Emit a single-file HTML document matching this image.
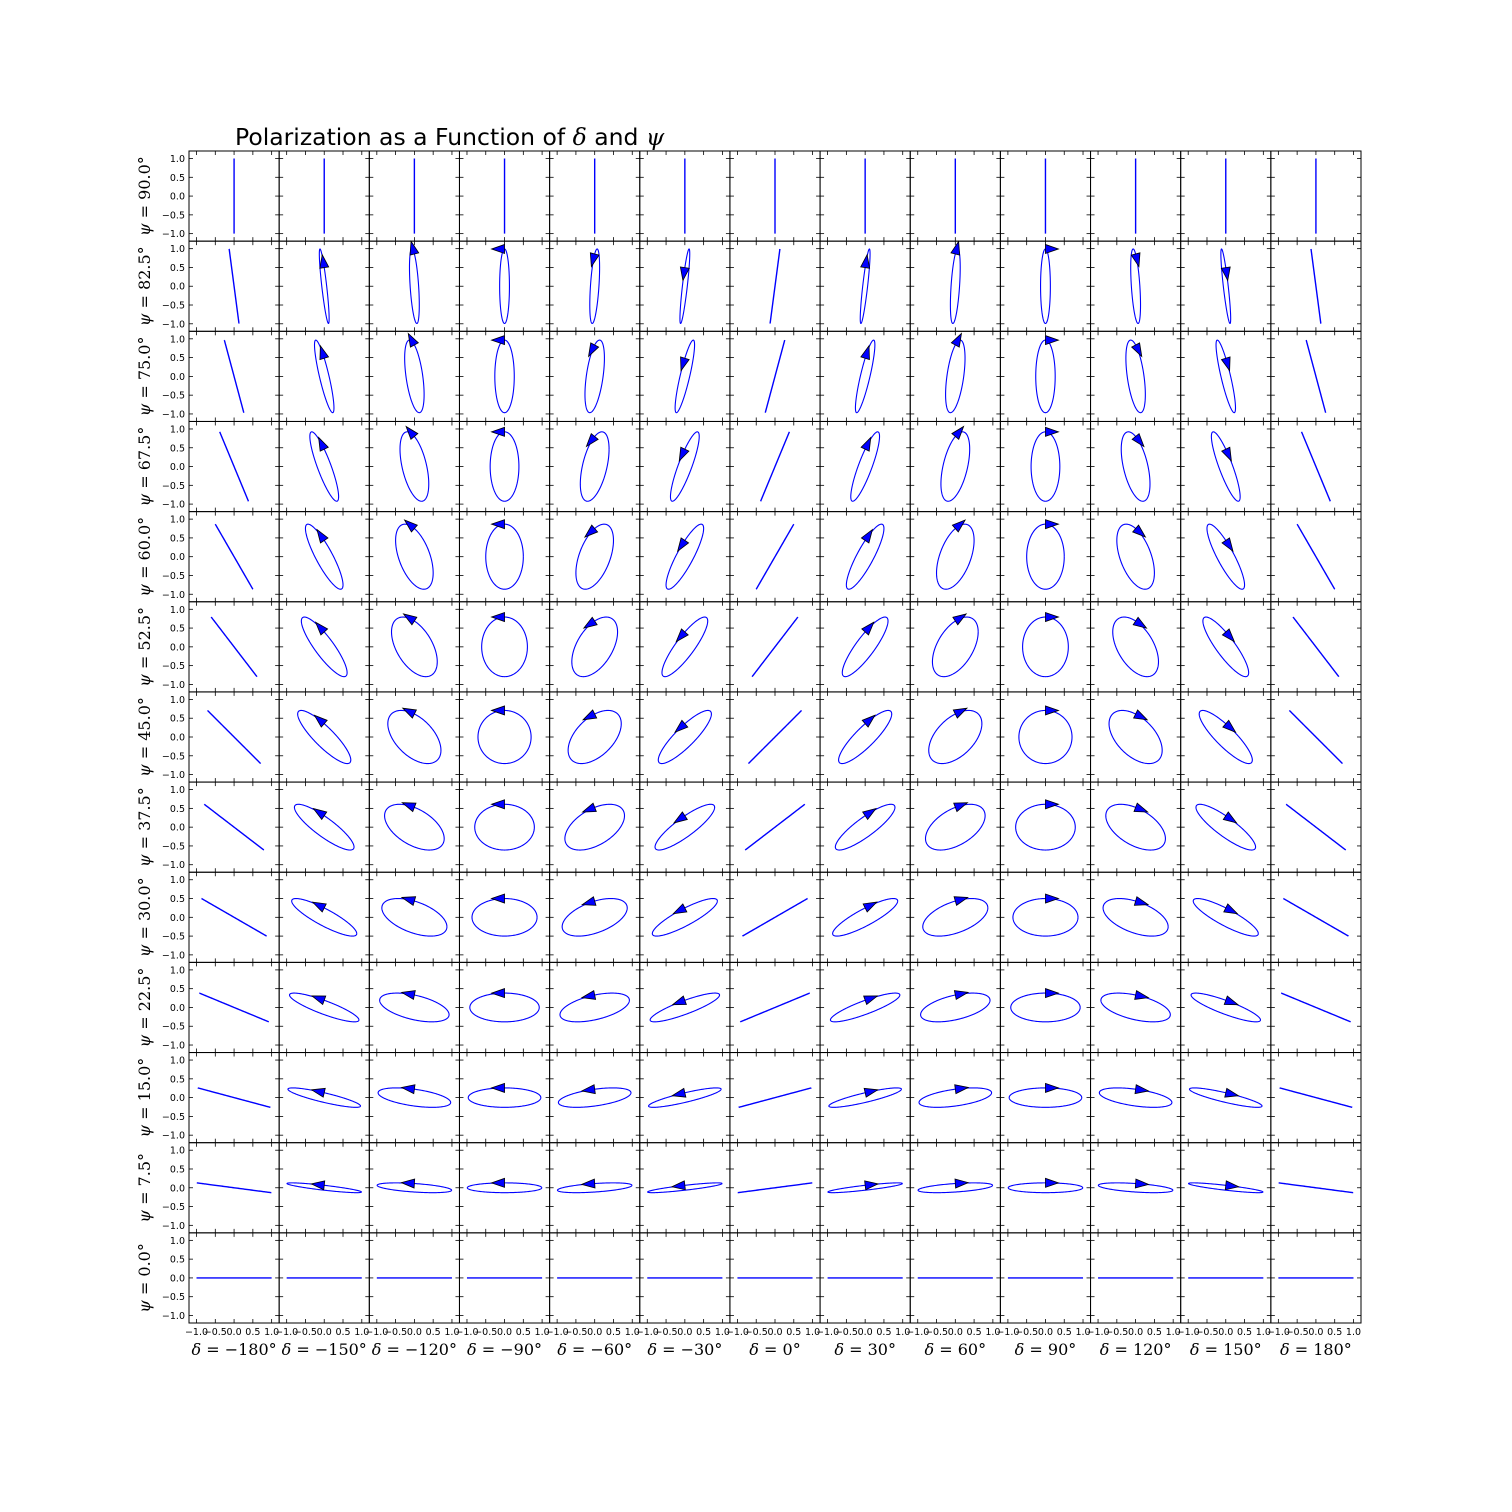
<!DOCTYPE html>
<html><head><meta charset="utf-8">
<style>
html,body{margin:0;padding:0;background:#fff;}
svg{display:block;}
</style></head>
<body>
<svg id="fig" width="1512" height="1512" xmlns="http://www.w3.org/2000/svg">
<rect x="0" y="0" width="1512" height="1512" fill="#fff"/>
<text x="235" y="145" font-family="DejaVu Sans, Liberation Sans, sans-serif" font-size="23.5" fill="#000">Polarization as a Function of <tspan font-family="DejaVu Serif, Liberation Serif, serif" font-style="italic">δ</tspan> and <tspan font-family="DejaVu Serif, Liberation Serif, serif" font-style="italic">ψ</tspan></text>
<g id="cells"></g>
</svg>
<script>
const psis = [90, 82.5, 75, 67.5, 60, 52.5, 45, 37.5, 30, 22.5, 15, 7.5, 0];
const deltas = [-180, -150, -120, -90, -60, -30, 0, 30, 60, 90, 120, 150, 180];
const tickVals = [-1.0, -0.5, 0.0, 0.5, 1.0];
const tickLabels = ["\u22121.0", "\u22120.5", "0.0", "0.5", "1.0"];

const NS = "http://www.w3.org/2000/svg";
const L = 189, T = 151, R = 1361, B = 1323;
const cw = (R - L) / deltas.length, ch = (B - T) / psis.length;
const lim = 1.2;
const g = document.getElementById('cells');
function mk(tag, attrs, parent) {
  const e = document.createElementNS(NS, tag);
  for (const k in attrs) e.setAttribute(k, attrs[k]);
  (parent || g).appendChild(e);
  return e;
}
function labelText(parent, sym, rest) {
  const a = document.createElementNS(NS, 'tspan');
  a.setAttribute('font-style', 'italic');
  a.textContent = sym;
  parent.appendChild(a);
  const b = document.createElementNS(NS, 'tspan');
  b.textContent = rest;
  parent.appendChild(b);
}
for (let r = 0; r < psis.length; r++) {
  for (let c = 0; c < deltas.length; c++) {
    const x0 = L + c * cw, y0 = T + r * ch;
    const sx = v => x0 + (v + lim) / (2 * lim) * cw;
    const sy = v => y0 + (lim - v) / (2 * lim) * ch;
    const cell = mk('g', {});
    
    
    const ps = psis[r] * Math.PI / 180, d = deltas[c] * Math.PI / 180;
    const cp = Math.cos(ps), sp = Math.sin(ps);
    let pts = [];
    for (let i = 0; i <= 200; i++) {
      const t = i / 200 * 2 * Math.PI;
      pts.push(sx(cp * Math.cos(t)).toFixed(2) + ',' + sy(sp * Math.cos(t + d)).toFixed(2));
    }
    const linear = Math.abs(Math.sin(d)) < 1e-6 || Math.abs(cp) < 1e-6 || Math.abs(sp) < 1e-6;
    const curve = mk('polyline', {points: pts.join(' '), fill: 'none', stroke: '#0000ff', 'stroke-width': linear ? 1.4 : 1.1}, cell);
    
    
    if (!linear) {
      const t0 = d > 0 ? -Math.PI / 2 : Math.PI / 2;
      const px = sx(cp * Math.cos(t0)), py = sy(sp * Math.cos(t0 + d));
      let dx = -cp * Math.sin(t0), dy = -sp * Math.sin(t0 + d);
      let ux = dx, uy = -dy;
      const n = Math.hypot(ux, uy); ux /= n; uy /= n;
      const len = 13, hw = 4.5;
      const tx = px + ux * len, ty = py + uy * len;
      const bx1 = px - uy * hw, by1 = py + ux * hw;
      const bx2 = px + uy * hw, by2 = py - ux * hw;
      const arr = mk('polygon', {points: `${tx},${ty} ${bx1},${by1} ${bx2},${by2}`, fill: '#0000ff', stroke: '#000', 'stroke-width': 0.8}, cell);
      
      
    }
    for (const v of tickVals) {
      const X = sx(v), Y = sy(v);
      mk('line', {x1: X, y1: y0, x2: X, y2: y0 + 4, stroke: '#000', 'stroke-width': 0.8}, cell);
      mk('line', {x1: X, y1: y0 + ch, x2: X, y2: y0 + ch - 4, stroke: '#000', 'stroke-width': 0.8}, cell);
      mk('line', {x1: x0, y1: Y, x2: x0 + 4, y2: Y, stroke: '#000', 'stroke-width': 0.8}, cell);
      mk('line', {x1: x0 + cw, y1: Y, x2: x0 + cw - 4, y2: Y, stroke: '#000', 'stroke-width': 0.8}, cell);
    }
    const frame = mk('rect', {x: x0, y: y0, width: cw, height: ch, fill: 'none', stroke: '#000', 'stroke-width': 1}, cell);
    
    
    if (c === 0) {
      tickVals.forEach((v, i) => {
        const tl = mk('text', {x: x0 - 4, y: sy(v) + 3.5, 'text-anchor': 'end', 'font-family': 'DejaVu Sans, Liberation Sans, sans-serif', 'font-size': 9.5}, cell);
        tl.textContent = tickLabels[i];
        
        
      });
      const cy = y0 + ch / 2;
      const rl = mk('text', {x: 150, y: cy, transform: `rotate(-90 150 ${cy})`, 'text-anchor': 'middle', 'font-family': 'DejaVu Serif, Liberation Serif, serif', 'font-size': 16}, cell);
      labelText(rl, '\u03C8', ' = ' + psis[r].toFixed(1) + '\u00B0');
      
      
    }
    if (r === psis.length - 1) {
      tickVals.forEach((v, i) => {
        const tl = mk('text', {x: sx(v), y: y0 + ch + 12, 'text-anchor': 'middle', 'font-family': 'DejaVu Sans, Liberation Sans, sans-serif', 'font-size': 9.5}, cell);
        tl.textContent = tickLabels[i];
        
        
      });
      const cl = mk('text', {x: x0 + cw / 2, y: 1355, 'text-anchor': 'middle', 'font-family': 'DejaVu Serif, Liberation Serif, serif', 'font-size': 16}, cell);
      labelText(cl, '\u03B4', ' = ' + (deltas[c] < 0 ? '\u2212' : '') + Math.abs(deltas[c]) + '\u00B0');
      
      
    }
  }
}
</script>
</body></html>
